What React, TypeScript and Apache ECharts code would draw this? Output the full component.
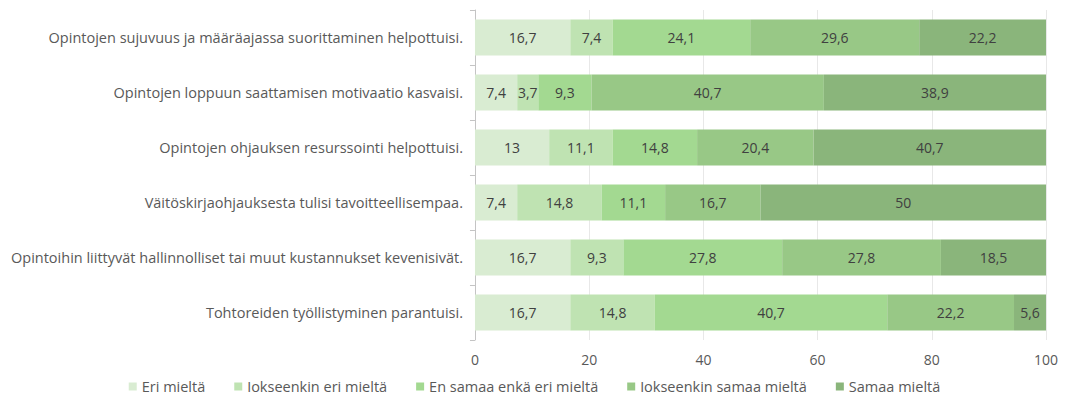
import React, { useEffect, useRef } from "react";
import * as echarts from "echarts";

const categories = [
  "Opintojen sujuvuus ja määräajassa suorittaminen helpottuisi.",
  "Opintojen loppuun saattamisen motivaatio kasvaisi.",
  "Opintojen ohjauksen resurssointi helpottuisi.",
  "Väitöskirjaohjauksesta tulisi tavoitteellisempaa.",
  "Opintoihin liittyvät hallinnolliset tai muut kustannukset kevenisivät.",
  "Tohtoreiden työllistyminen parantuisi.",
];

const seriesNames = [
  "Eri mieltä",
  "Jokseenkin eri mieltä",
  "En samaa enkä eri mieltä",
  "Jokseenkin samaa mieltä",
  "Samaa mieltä",
];

const eriMielta = [16.7, 7.4, 13, 7.4, 16.7, 16.7];
const jokseenkinEri = [7.4, 3.7, 11.1, 14.8, 9.3, 14.8];
const enSamaaEnkaEri = [24.1, 9.3, 14.8, 11.1, 27.8, 40.7];
const jokseenkinSamaa = [29.6, 40.7, 20.4, 16.7, 27.8, 22.2];
const samaaMielta = [22.2, 38.9, 40.7, 50, 18.5, 5.6];

const xTicks = [0, 20, 40, 60, 80, 100];

const colors = ["#d9ecd2", "#bfe3b2", "#a3d991", "#98c886", "#8ab57b"];

const FONT = "'Open Sans', 'Noto Sans', sans-serif";

export default function App() {
  const ref = useRef<HTMLDivElement>(null);
  useEffect(() => {
    if (!ref.current) return;
    const chart = echarts.init(ref.current, undefined, { renderer: "svg" });
    const data = [eriMielta, jokseenkinEri, enSamaaEnkaEri, jokseenkinSamaa, samaaMielta];
    chart.setOption({
      animation: false,
      textStyle: { fontFamily: FONT },
      grid: { left: 465, right: 9, top: 2, bottom: 60, containLabel: false },
      legend: {
        top: 366,
        left: "center",
        itemWidth: 8,
        itemHeight: 8,
        itemGap: 29,
        icon: "rect",
        textStyle: { color: "#595959", fontSize: 14.5, fontFamily: FONT },
        data: seriesNames,
      },
      xAxis: {
        type: "value",
        min: xTicks[0],
        max: xTicks[xTicks.length - 1],
        interval: 20,
        axisLine: { show: false },
        axisTick: { show: false },
        splitLine: { lineStyle: { color: "#e8e8e8" } },
        axisLabel: { color: "#595959", fontSize: 14, margin: 12, fontFamily: FONT },
      },
      yAxis: {
        type: "category",
        inverse: true,
        data: categories,
        axisLine: { show: true, lineStyle: { color: "#c4c4c4" } },
        axisTick: { show: true, length: 5, lineStyle: { color: "#c4c4c4" } },
        axisLabel: { color: "#595959", fontSize: 14.5, margin: 12, fontFamily: FONT },
      },
      series: seriesNames.map((name, i) => ({
        name,
        type: "bar",
        stack: "total",
        barWidth: "65.5%",
        itemStyle: { color: colors[i] },
        label: {
          show: true,
          position: "inside",
          color: "#404040",
          fontSize: 14,
          fontFamily: FONT,
          formatter: (p: any) => String(p.value).replace(".", ","),
        },
        data: data[i],
      })),
    });
    return () => chart.dispose();
  }, []);
  return <div ref={ref} style={{ width: 1053, height: 392, marginBottom: -8 }} />;
}
